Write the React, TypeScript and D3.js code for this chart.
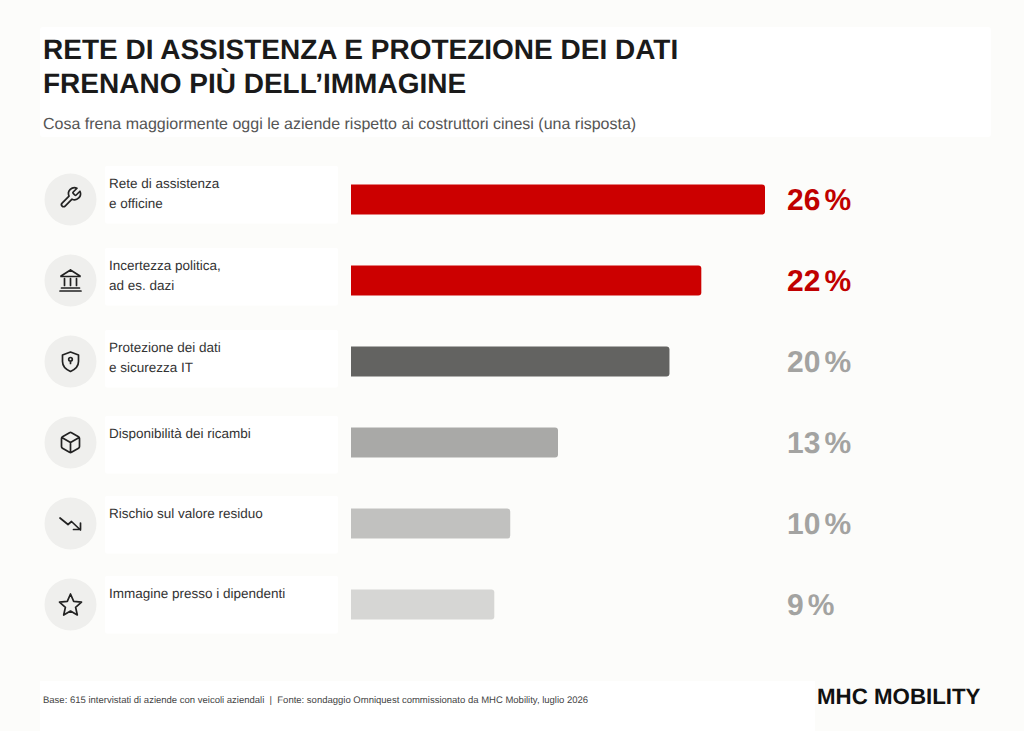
import * as React from 'react';
import * as d3 from 'd3';

const titleLines = ['RETE DI ASSISTENZA E PROTEZIONE DEI DATI', 'FRENANO PIÙ DELL’IMMAGINE'];
const subtitle = 'Cosa frena maggiormente oggi le aziende rispetto ai costruttori cinesi (una risposta)';
const footnote = 'Base: 615 intervistati di aziende con veicoli aziendali  |  Fonte: sondaggio Omniquest commissionato da MHC Mobility, luglio 2026';
const brand = 'MHC MOBILITY';

const categories = ['wrench', 'bank', 'shield', 'box', 'down', 'star'];
const labels = [
  ['Rete di assistenza', 'e officine'],
  ['Incertezza politica,', 'ad es. dazi'],
  ['Protezione dei dati', 'e sicurezza IT'],
  ['Disponibilità dei ricambi'],
  ['Rischio sul valore residuo'],
  ['Immagine presso i dipendenti'],
];
const values = [26, 22, 20, 13, 10, 9];
const barColors = ['#cc0000', '#cc0000', '#636361', '#a9a9a7', '#c1c1bf', '#d6d6d4'];
const valueColors = ['#c00000', '#c00000', '#a3a3a1', '#a3a3a1', '#a3a3a1', '#a3a3a1'];
// the label boxes do not sit evenly on the rows
const panelTops = [166, 248, 330, 416, 496, 576];

// lucide-like glyphs on a 24 box
const icons: Record<string, string> = {
  wrench: 'M14.7 4.5a1 1 0 0 0 0 1.4l1.6 1.6a1 1 0 0 0 1.4 0l3.77-3.77a6 6 0 0 1-7.94 7.94l-6.91 6.91a2.12 2.12 0 0 1-3-3l6.91-6.91a6 6 0 0 1 7.94-7.94l-3.76 3.76z',
  bank: 'M1.5 22.5h21M3 19.5h18M6 17v-7M12 17v-7M18 17v-7M2.5 8h19M12 1.5L2.5 7.5M12 1.5l9.5 6',
  shield: 'M12 2.5l8 3v6.5c0 5-3.5 8-8 10-4.500-2-8-5-8-10V5.500zM12 14v-2.500M12 8a1.800 1.800 0 1 0 0 3.600 1.800 1.800 0 0 0 0-3.600z',
  box: 'M21 8a2 2 0 0 0-1-1.730l-7-4a2 2 0 0 0-2 0l-7 4A2 2 0 0 0 3 8v8a2 2 0 0 0 1 1.730l7 4a2 2 0 0 0 2 0l7-4A2 2 0 0 0 21 16zM3.300 7L12 12l8.700-5M12 22V12',
  down: 'M1.500 6.500l8 6.500 3.500-3 9 8.500M22 11.500V18h-7',
  star: 'M12 1.500l3.200 7.300 7.800.8-5.900 5.200 1.700 7.700L12 18.500l-6.800 4 1.700-7.700L1 9.600l7.800-.8z',
};

const sans = '"Liberation Sans", Arial, sans-serif';

export default function App() {
  const x = d3.scaleLinear().domain([0, 26]).range([351, 765]);
  const y = d3.scaleBand().domain(categories).range([159, 645]).paddingInner(0);
  const barH = 30;

  const barPath = (v: number, cy: number) => {
    const p = d3.path();
    const x1 = x(v);
    const r = 3;
    p.moveTo(x(0), cy - barH / 2);
    p.lineTo(x1 - r, cy - barH / 2);
    p.arcTo(x1, cy - barH / 2, x1, cy - barH / 2 + r, r);
    p.lineTo(x1, cy + barH / 2 - r);
    p.arcTo(x1, cy + barH / 2, x1 - r, cy + barH / 2, r);
    p.lineTo(x(0), cy + barH / 2);
    p.closePath();
    return p.toString();
  };

  return (
    <svg width={1024} height={731} style={{ position: 'absolute', left: 0, top: 0, display: 'block', textRendering: 'geometricPrecision' }} fontFamily={sans}>
      <rect width={1024} height={731} fill="#fcfcfa" />
      <rect x={40} y={27} width={951} height={110} rx={3} fill="#ffffff" />
      <rect x={40} y={681} width={775} height={50} fill="#ffffff" />

      {titleLines.map((t, i) => (
        <text key={t} x={43} y={59.3 + i * 33.6} fontSize={28} fontWeight={700} fill="#1a1a1a">{t}</text>
      ))}
      <text x={43} y={129} fontSize={16} fill="#555555">{subtitle}</text>

      {categories.map((c, i) => {
        const cy = (y(c) as number) + y.bandwidth() / 2;
        return (
          <g key={c}>
            <circle cx={70.5} cy={cy} r={26} fill="#efefed" />
            <g transform={`translate(${70.5 - 12},${cy - 12})`}>
              <path d={icons[c]} fill="none" stroke="#222222" strokeWidth={1.7} strokeLinecap="round" strokeLinejoin="round" />
            </g>
            <rect x={105} y={panelTops[i]} width={233} height={57.5} rx={2} fill="#ffffff" />
            {labels[i].map((l, j) => (
              <text key={l} x={109} y={panelTops[i] + 22 + j * 20} fontSize={13.5} fill="#333333">{l}</text>
            ))}
            <path d={barPath(values[i], cy)} fill={barColors[i]} />
            <text x={787} y={cy + 10.5} fontSize={30} fontWeight={700} fill={valueColors[i]}>
              {values[i]}
              <tspan dx={4}>%</tspan>
            </text>
          </g>
        );
      })}

      <text x={43} y={703} fontSize={9.5} fill="#444444" style={{ whiteSpace: 'pre' }}>{footnote}</text>
      <text x={817} y={704} fontSize={22.3} fontWeight={700} fill="#111111">{brand}</text>
    </svg>
  );
}
